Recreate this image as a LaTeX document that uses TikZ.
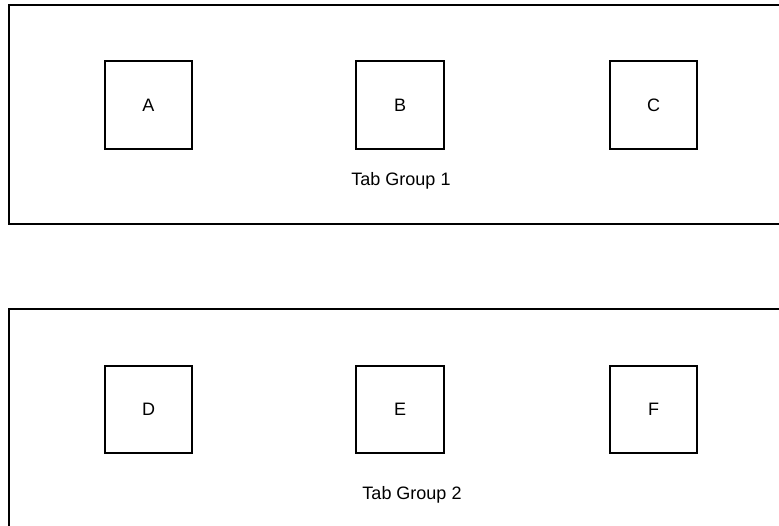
\documentclass[tikz,border=0pt]{standalone}
\usepackage{fontspec}
\setmainfont{Liberation Sans}

\begin{document}
\begin{tikzpicture}[x=1pt,y=-1pt,
  frame/.style={line width=2pt},
  tabbox/.style={draw,line width=2pt,minimum size=87.5pt,inner sep=0pt,
    font=\fontsize{18}{22}\selectfont},
  grouplabel/.style={anchor=base,inner sep=0pt,font=\fontsize{18}{22}\selectfont}]
  \useasboundingbox (0,0) rectangle (779,526);
  \clip (0,0) rectangle (779,526);
  % Tab group 1 (open to the right)
  \draw[frame] (790,5) -- (9.3,5) -- (9.3,224) -- (790,224);
  \node[tabbox] (a) at (148.5,105) {A};
  \node[tabbox] (b) at (400,105) {B};
  \node[tabbox] (c) at (653.5,105) {C};
  \node[grouplabel] (g1) at (401,185.5) {Tab Group 1};
  % Tab group 2 (open to the right and below)
  \draw[frame] (790,309.3) -- (9.3,309.3) -- (9.3,540);
  \node[tabbox] (d) at (148.5,409.5) {D};
  \node[tabbox] (e) at (400,409.5) {E};
  \node[tabbox] (f) at (653.5,409.5) {F};
  \node[grouplabel] (g2) at (412,499) {Tab Group 2};
\end{tikzpicture}
\end{document}
